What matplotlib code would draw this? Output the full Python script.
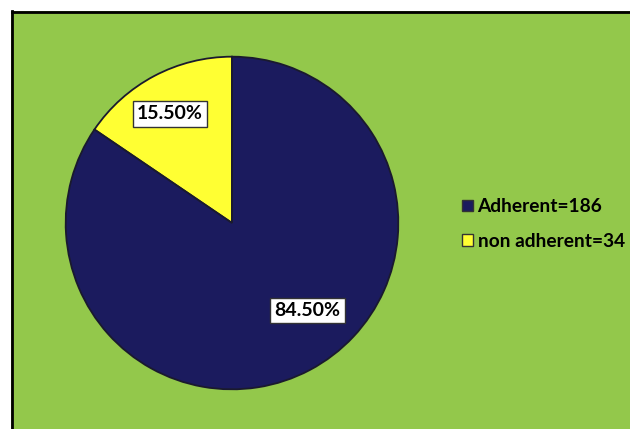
import matplotlib
matplotlib.use("Agg")
import matplotlib.pyplot as plt
from matplotlib.patches import Rectangle, Patch

categories = ["non adherent=34", "Adherent=186"]
values = [15.5, 84.5]
pct_labels = ["15.50%", "84.50%"]
colors = ["#FFFF33", "#1B1B5E"]

W, H = 630, 429
fig = plt.figure(figsize=(W / 100, H / 100), dpi=100)
fig.patch.set_facecolor("white")

# green plot area with black left/top border
bg = Rectangle((11 / W, 0), 1 - 11 / W, (H - 11) / H, transform=fig.transFigure,
               facecolor="#93C84B", edgecolor="none", zorder=-10)
fig.add_artist(bg)
fig.add_artist(plt.Line2D([11.5 / W, 11.5 / W], [0, (H - 11) / H], color="black", lw=2,
                          transform=fig.transFigure, zorder=-5))
fig.add_artist(plt.Line2D([11.5 / W, 1], [(H - 11.5) / H, (H - 11.5) / H], color="black", lw=2,
                          transform=fig.transFigure, zorder=-5))

cx, cy, r = 232, 223, 168
ax = fig.add_axes([(cx - r) / W, (H - cy - r) / H, 2 * r / W, 2 * r / H])
ax.set_zorder(1)
ax.patch.set_visible(False)

wedges, _ = ax.pie(values, colors=colors, startangle=90, counterclock=True, radius=0.99,
                   wedgeprops=dict(edgecolor="#1a1a2e", linewidth=1.3))
ax.set_xlim(-1, 1)
ax.set_ylim(-1, 1)
ax.set_aspect("equal")
ax.axis("off")

font = "Lato"
box = dict(boxstyle="square,pad=0.22", facecolor="white", edgecolor="#333333", linewidth=1)
label_pos = [(-0.37, 0.65), (0.45, -0.52)]
for (x, y), t in zip(label_pos, pct_labels):
    ax.text(x, y, t, ha="center", va="center", fontsize=14, fontweight="bold",
            family=font, color="black", bbox=box)

handles = [Patch(facecolor=colors[1], edgecolor="#333333"), Patch(facecolor=colors[0], edgecolor="#333333")]
leg = fig.legend(handles, [categories[1], categories[0]], loc="center left",
                 bbox_to_anchor=(445 / W, (H - 224) / H), frameon=False,
                 prop=dict(family=font, weight="bold", size=13.8),
                 handlelength=0.55, handleheight=0.55, handletextpad=0.25, labelspacing=0.9)
leg.set_zorder(2)

fig.savefig("out.png", dpi=100)
